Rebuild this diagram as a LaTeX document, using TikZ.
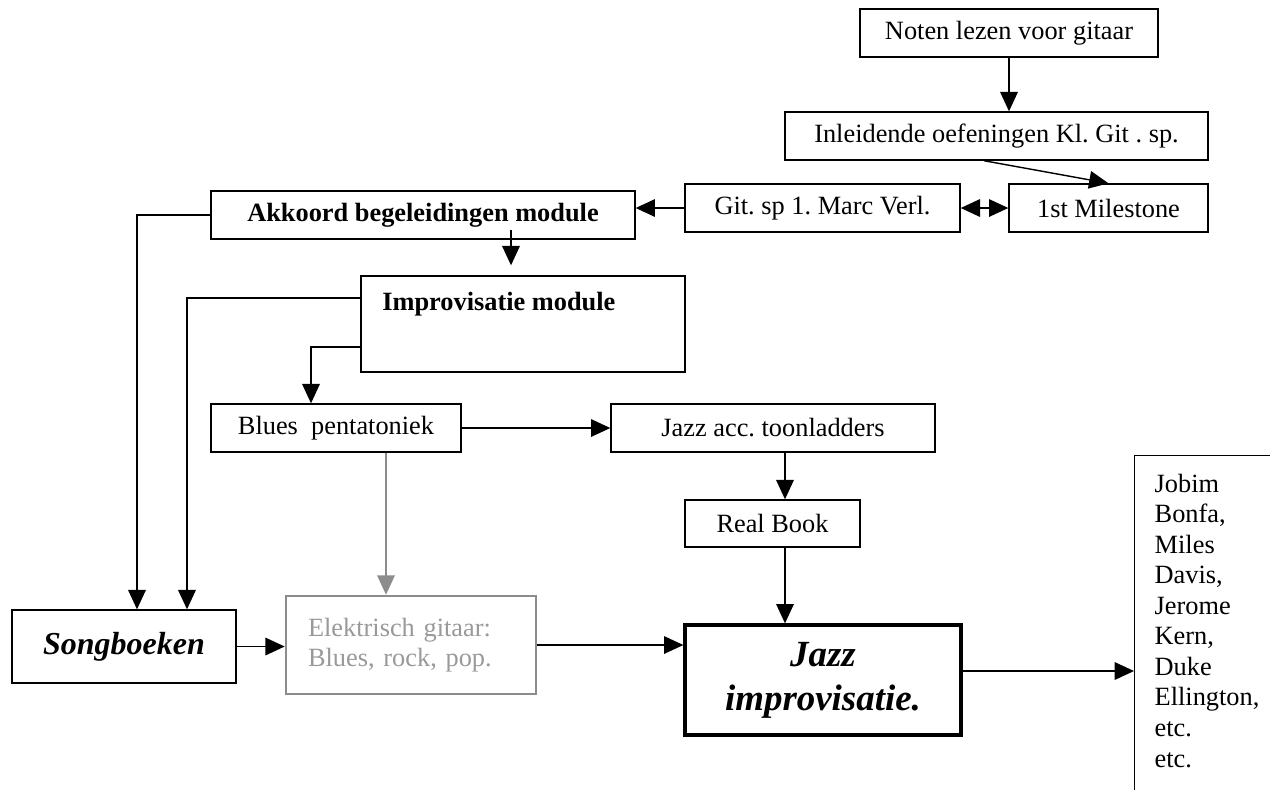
\documentclass[tikz,border=0pt]{standalone}
\usepackage{fontspec}
\setmainfont{Liberation Serif}
\usetikzlibrary{arrows.meta}
\definecolor{lgray}{HTML}{999999}
\definecolor{mgray}{HTML}{8C8C8C}
\newcommand{\normtxt}{\fontsize{15}{17.4}\selectfont}
\frenchspacing

\begin{document}
\begin{tikzpicture}[x=0.02cm,y=-0.02cm,
    font=\normtxt,
    box/.style={draw,line width=0.8pt,inner sep=0pt},
    graybox/.style={draw=mgray,line width=1.5pt,text=lgray},
    thickbox/.style={draw,line width=1.9pt,inner sep=0pt},
    arr/.style={line width=0.8pt,-{Triangle[length=11pt,width=10pt]}},
    darr/.style={line width=0.8pt,{Triangle[length=11pt,width=10pt]}-{Triangle[length=11pt,width=10pt]}},
    grayarr/.style={arr,draw=mgray,fill=mgray}]
        \useasboundingbox (0,0) rectangle (1270,789);

        \node[box,minimum width=5.96cm,minimum height=0.96cm] (noten) at (1009,33) {Noten lezen voor gitaar};
        \node[box,minimum width=8.46cm,minimum height=0.96cm] (inleid) at (996.5,136) {Inleidende oefeningen Kl. Git . sp.};
        \node[box,minimum width=5.5cm,minimum height=0.96cm] (git) at (822.5,208) {Git. sp 1. Marc Verl.};
        \node[box,minimum width=3.98cm,minimum height=0.96cm] (milestone) at (1108.5,208) {1st Milestone};
        \node[box,minimum width=8.48cm,minimum height=0.96cm,font=\normtxt\bfseries] (akkoord) at (423,215) {Akkoord begeleidingen module};

        \node[box,minimum width=6.48cm,minimum height=1.92cm] (impro) at (523,324) {};
        \node[anchor=west,inner sep=0pt,font=\normtxt\bfseries] (impro-lbl) at (382,304) {Improvisatie module};

        \node[box,minimum width=5cm,minimum height=0.96cm] (blues) at (336,428) {Blues\ \ pentatoniek};
        \node[box,minimum width=6.48cm,minimum height=0.96cm] (jazzacc) at (773,428) {Jazz acc. toonladders};
        \node[box,minimum width=3.5cm,minimum height=0.94cm] (realbook) at (772.5,523.5) {Real Book};

        \node[box,minimum width=4.48cm,minimum height=1.46cm,font=\fontsize{18.2}{21}\selectfont\bfseries\itshape] (songboek) at (124,646.5) {Songboeken};
        \node[graybox,minimum width=5cm,minimum height=1.96cm,text width=4.12cm,inner xsep=0.44cm,align=left] (elektr) at (411,645) {Elektrisch gitaar:\\Blues, rock, pop.};
        \node[thickbox,minimum width=5.52cm,minimum height=2.2cm,align=center,font=\fontsize{21}{25}\selectfont\bfseries\itshape] (jazzimpr) at (823,680) {Jazz\\improvisatie.};
        \node[box,anchor=north west,text width=3.4cm,inner xsep=0.4cm,inner ysep=0.36cm,text depth=7cm,align=left] (jobim) at (1134,455)
            {Jobim\\Bonfa,\\Miles\\Davis,\\Jerome\\Kern,\\Duke\\Ellington,\\etc.\\etc.};

        \draw[arr] (noten) -- (inleid.north -| noten);
        \draw[arr] ([xshift=-0.25cm]inleid.south) -- (milestone.north);
        \draw[darr] (git) -- (milestone);
        \draw[arr] (git) -- (akkoord.east |- git);
        \draw[arr] (akkoord.west) -| ([xshift=0.26cm]songboek.north);
        \draw[arr] ([shift={(88,-10)}]akkoord.south) -- ([shift={(88,-10)}]akkoord.south |- impro.north);
        \draw[arr] ([yshift=0.52cm]impro.west) -| ([xshift=1.26cm]songboek.north);
        \draw[arr] ([yshift=-0.46cm]impro.west) -| ([xshift=-0.5cm]blues.north);
        \draw[arr] (blues) -- (jazzacc);
        \draw[arr] ([xshift=0.24cm]jazzacc.south) -- ([xshift=0.24cm]jazzacc.south |- realbook.north);
        \draw[arr] ([xshift=0.25cm]realbook.south) -- ([xshift=0.25cm]realbook.south |- jazzimpr.north);
        \draw[grayarr] ([xshift=1cm]blues.south) -- ([xshift=1cm]blues.south |- elektr.north);
        \draw[arr] (songboek) -- (elektr.west |- songboek);
        \draw[arr] (elektr) -- (jazzimpr.west |- elektr);
        \draw[arr] ([yshift=0.18cm]jazzimpr.east) -- ([yshift=0.18cm]jazzimpr.east -| jobim.west);

    \end{tikzpicture}
\end{document}
